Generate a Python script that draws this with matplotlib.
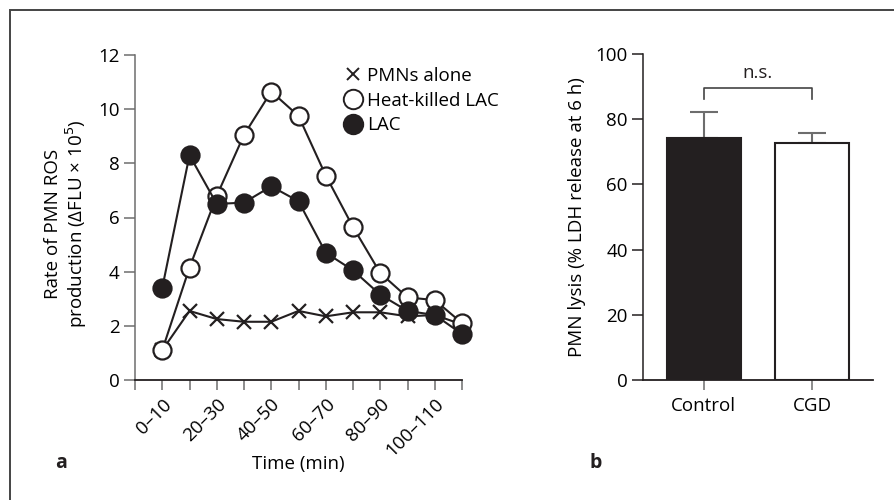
import numpy as np
import matplotlib
matplotlib.use('Agg')
import matplotlib.pyplot as plt
from matplotlib.lines import Line2D
from matplotlib.patches import Rectangle

plt.rcParams['font.family'] = ['Open Sans', 'DejaVu Sans']
plt.rcParams['font.size'] = 13.5

# ---------------- data ----------------
# panel a: ROS production per 10-min interval
time_pos = np.arange(1, 13)
time_labels = ['0–10', '20–30', '40–50', '60–70', '80–90', '100–110']
pmn_alone = [1.1, 2.55, 2.25, 2.15, 2.15, 2.55, 2.35, 2.5, 2.5, 2.35, 2.4, 2.05]
heat_killed = [1.1, 4.15, 6.8, 9.05, 10.65, 9.75, 7.55, 5.65, 3.95, 3.05, 2.95, 2.1]
lac = [3.4, 8.3, 6.5, 6.55, 7.15, 6.6, 4.7, 4.05, 3.15, 2.55, 2.4, 1.7]

# panel b: PMN lysis
groups = ['Control', 'CGD']
lysis = [74.1, 72.6]
lysis_err = [8.0, 3.2]

dark = '#231f20'
grey = '#6d6d6d'

fig = plt.figure(figsize=(8.94, 5.0), dpi=100)

# partial frame around the figure (cropped at right/bottom)
fig.patches.append(Rectangle((9.5 / 894, -0.2), 1.2, 1.2 - 10 / 500,
                             transform=fig.transFigure, fill=False,
                             edgecolor='#444444', lw=1.4, figure=fig))

# ================= panel a =================
ax = fig.add_axes([135 / 894, 0.24, 327 / 894, 0.65])

ax.plot(time_pos, pmn_alone, color=dark, lw=1.5, marker='x', ms=9.5, mew=1.6,
        clip_on=False, zorder=3)
ax.plot(time_pos, heat_killed, color=dark, lw=1.5, marker='o', ms=13,
        mfc='white', mec=dark, mew=1.6, clip_on=False, zorder=4)
ax.plot(time_pos, lac, color=dark, lw=1.5, marker='o', ms=13,
        mfc=dark, mec=dark, mew=1.6, clip_on=False, zorder=5)

ax.set_xlim(0, 12)
ax.set_ylim(0, 12)
ax.set_yticks(np.arange(0, 13, 2))
ax.set_xticks(np.arange(0, 13, 1))
ax.set_xticklabels(['' if i % 2 == 0 else time_labels[(i - 1) // 2] for i in range(13)],
                   rotation=45, ha='right', rotation_mode='anchor')
ax.tick_params(axis='x', length=7, width=1.1, color=grey, pad=4)
ax.tick_params(axis='y', length=8, width=1.1, color=grey, pad=3)
for s in ['top', 'right']:
    ax.spines[s].set_visible(False)
ax.spines['left'].set_color(grey)
ax.spines['bottom'].set_color(dark)
ax.spines['left'].set_linewidth(1.1)
ax.spines['bottom'].set_linewidth(1.3)

ax.set_ylabel('Rate of PMN ROS\nproduction (ΔFLU × 10$^5$)', linespacing=1.1)
ax.yaxis.set_label_coords(-0.14, 0.48)
ax.set_xlabel('Time (min)')
ax.xaxis.set_label_coords(0.5, -0.232)

handles = [
    Line2D([], [], ls='none', marker='x', color=dark, ms=9, mew=1.4),
    Line2D([], [], ls='none', marker='o', mfc='white', mec=dark, ms=14, mew=1.4),
    Line2D([], [], ls='none', marker='o', mfc=dark, mec=dark, ms=14, mew=1.4),
]
ax.legend(handles, ['PMNs alone', 'Heat-killed LAC', 'LAC'], loc='upper left',
          bbox_to_anchor=(0.64, 0.963), frameon=False, handlelength=0.9,
          handletextpad=0.3, labelspacing=0.35, borderpad=0, borderaxespad=0)

fig.text(61 / 894, 1 - 463 / 500, 'a', fontsize=14, fontweight='bold',
         ha='center', va='center', color=dark)

# ================= panel b =================
bx = fig.add_axes([643 / 894, 0.24, 230 / 894, 0.652])
xpos = np.arange(len(groups))
bx.bar(xpos, lysis, width=0.68, color=[dark, 'white'], edgecolor=dark, lw=1.5,
       zorder=2)
bx.errorbar(xpos, lysis, yerr=[[0, 0], lysis_err], fmt='none', ecolor=grey,
            elinewidth=1.5, capsize=10, capthick=1.5, zorder=1)

# significance bracket
bx.plot([0, 0, 1, 1], [86.2, 89.5, 89.5, 86.2], color='#444444', lw=1.2)
bx.text(0.5, 91.3, 'n.s.', ha='center', va='bottom', color=dark)

bx.set_xlim(-0.56, 1.56)
bx.set_ylim(0, 100)
bx.set_yticks(np.arange(0, 101, 20))
bx.set_xticks(xpos)
bx.set_xticklabels(groups)
bx.tick_params(axis='x', length=7, width=1.1, color=grey, pad=5)
bx.tick_params(axis='y', length=8, width=1.1, color=dark, pad=3)
for s in ['top', 'right']:
    bx.spines[s].set_visible(False)
bx.spines['left'].set_color(dark)
bx.spines['bottom'].set_color(dark)
bx.spines['left'].set_linewidth(1.1)
bx.spines['bottom'].set_linewidth(1.3)
bx.set_ylabel('PMN lysis (% LDH release at 6 h)')
bx.yaxis.set_label_coords(-0.248, 0.5)

fig.text(596 / 894, 1 - 463 / 500, 'b', fontsize=14, fontweight='bold',
         ha='center', va='center', color=dark)

fig.savefig('out.png', dpi=100)
